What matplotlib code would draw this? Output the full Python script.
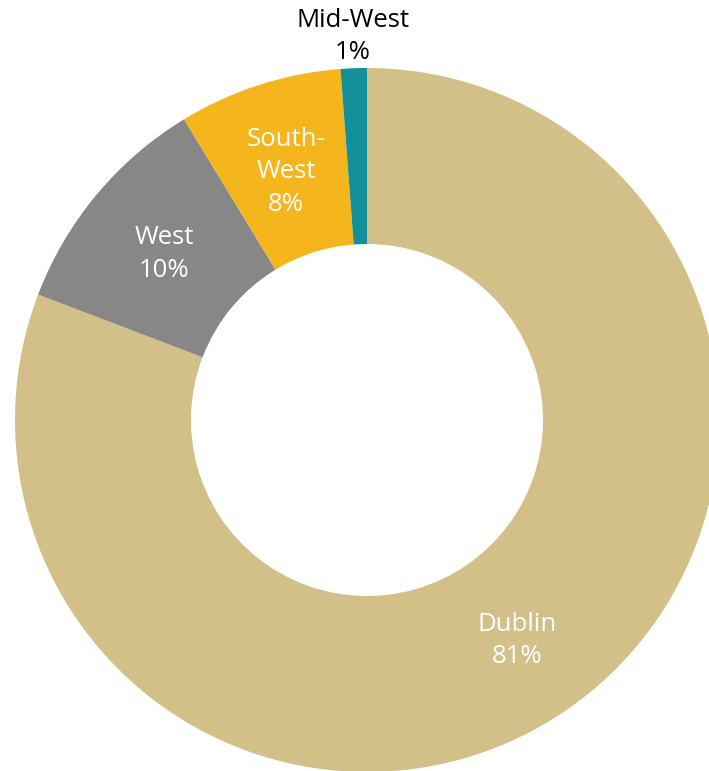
import matplotlib

matplotlib.use("Agg")
import matplotlib.pyplot as plt
import numpy as np

# regions in clockwise order from 12 o'clock
regions = ["Dublin", "West", "South-\nWest", "Mid-West"]
shares = [80.8, 10.5, 7.5, 1.2]
pct_labels = ["81%", "10%", "8%", "1%"]
colors = ["#D3C088", "#878787", "#F5B51C", "#13909A"]

W, H = 709, 771
CX, CY = 367, 420   # donut centre in pixels (from top-left)
R = 352
RING = 0.5

plt.rcParams["font.family"] = ["Open Sans", "DejaVu Sans"]

fig = plt.figure(figsize=(W / 100, H / 100), dpi=100)
ax = fig.add_axes([0, 0, 1, 1])
wedges, _ = ax.pie(
    shares,
    colors=colors,
    startangle=90,
    counterclock=False,
    radius=R,
    wedgeprops=dict(width=R * RING, linewidth=0),
)
ax.set_xlim(-CX, W - CX)
ax.set_ylim(-(H - CY), CY)
ax.set_aspect("equal")
ax.axis("off")

for i, w in enumerate(wedges):
    mid = np.deg2rad((w.theta1 + w.theta2) / 2.0)
    inside = i < 3
    r = R * (1 - RING / 2) if inside else R * 1.09
    ax.text(
        r * np.cos(mid),
        r * np.sin(mid) - (3 if inside else 0),
        f"{regions[i]}\n{pct_labels[i]}",
        ha="center",
        va="center",
        fontsize=18.5,
        color="white" if inside else "black",
        linespacing=1.4,
    )

fig.savefig("out.png", dpi=100, facecolor="white")
